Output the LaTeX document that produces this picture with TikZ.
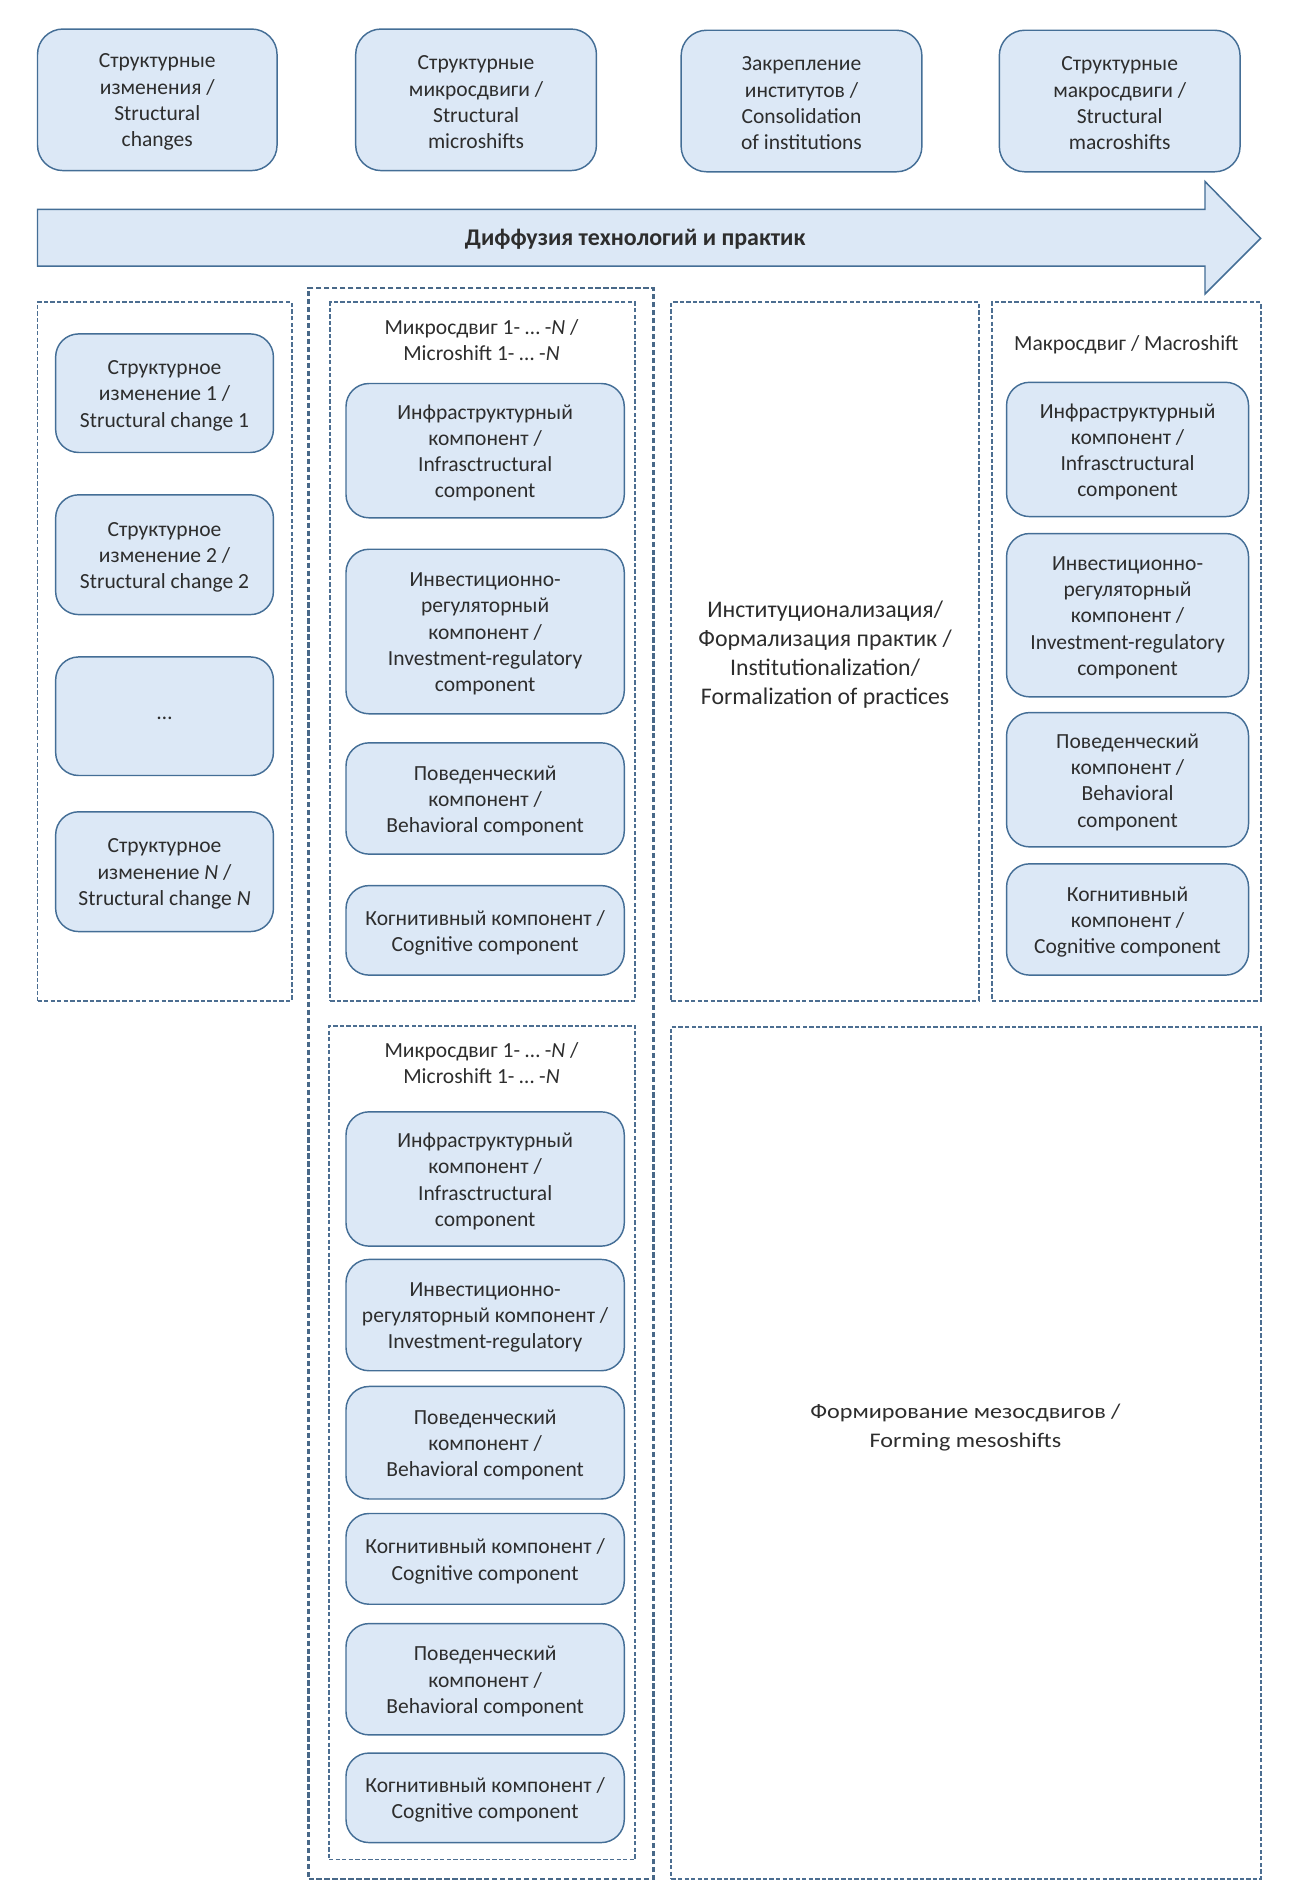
\documentclass[tikz,border=0pt]{standalone}
\usepackage{fontspec}
\setmainfont{Carlito}
\definecolor{fillc}{RGB}{220,232,246}
\definecolor{bordc}{RGB}{68,110,150}
\definecolor{dashc}{RGB}{76,110,145}
\definecolor{dashd}{RGB}{72,104,136}
\definecolor{txtc}{RGB}{45,45,45}
\begin{document}
\begin{tikzpicture}[x=0.5pt,y=-0.5pt,
  boxtxt/.style={align=center, text=txtc, inner sep=0pt, yshift=-1pt, font=\fontsize{8.9}{10.85}\selectfont},
  rbase/.style={draw=bordc, fill=fillc, line width=0.6pt, rounded corners=9.5pt, inner sep=0pt},
  area/.style n args={4}{minimum width={(#3-#1)*0.5pt}, minimum height={(#4-#2)*0.5pt}, at={({(#1+#3)/2},{(#2+#4)/2})}},
  rb/.style n args={5}{rbase, area={#1}{#2}{#3}{#4}, label={[boxtxt]center:{#5}}},
  tb/.style n args={5}{rbase, rounded corners=10.5pt, area={#1}{#2}{#3}{#4}, label={[boxtxt]center:{#5}}},
  db/.style n args={4}{draw=dashc, line width=0.8pt, dash pattern=on 1.8pt off 0.9pt, inner sep=0pt, area={#1}{#2}{#3}{#4}},
  ob/.style n args={4}{draw=dashd, line width=1.1pt, dash pattern=on 2.2pt off 1.1pt, inner sep=0pt, area={#1}{#2}{#3}{#4}},
  title/.style={align=center, text=txtc, inner sep=0pt, font=\fontsize{8.9}{10.85}\selectfont}]
\useasboundingbox (0,0) rectangle (1074.6,1568);

% top boxes
\node[tb={31}{24}{229}{141}{Структурные\\изменения /\\Structural\\changes}] (b1) {};
\node[tb={294}{24}{493}{141}{Структурные\\микросдвиги /\\Structural\\microshifts}] (b2) {};
\node[tb={563}{25}{762}{142}{Закрепление\\институтов /\\Consolidation\\of institutions}] (b3) {};
\node[tb={826}{25}{1025}{142}{Структурные\\макросдвиги /\\Structural\\macroshifts}] (b4) {};

% arrow
\draw[draw=bordc, fill=fillc, line width=0.6pt] (31,173) -- (996,173) -- (996,150) -- (1042,197) -- (996,243) -- (996,220) -- (31,220) -- cycle;
\node[title, font=\fontsize{9.9}{12}\selectfont\bfseries] (arr) at (525,198) {Диффузия технологий и практик};

% dashed containers
\node[ob={255}{238}{540}{1553}] (outer) {};
\node[db={31}{250}{241}{827}] (left) {};
\node[db={273}{250}{525}{827}] (m1) {};
\node[db={272}{848}{525}{1537}] (m2) {};
\node[db={555}{250}{809}{827}] (inst) {};
\node[title, font=\fontsize{9.85}{12}\selectfont] (instt) at (682,541) {Институционализация/\\Формализация практик /\\Institutionalization/\\Formalization of practices};
\node[db={820}{250}{1042}{827}] (macro) {};
\node[db={555}{849}{1042}{1553}] (meso) {};
\node[title, font=\fontsize{8.6}{12}\selectfont] (mesot) at (798,1180) {\scalebox{1.16}[1]{Формирование мезосдвигов /}\\\scalebox{1.16}[1]{Forming mesoshifts}};

% left column
\node[rb={46}{276}{226}{374}{Структурное\\изменение 1 /\\Structural change 1}] (sc1) {};
\node[rb={46}{409}{226}{508}{Структурное\\изменение 2 /\\Structural change 2}] (sc2) {};
\node[rb={46}{543}{226}{641}{…}] (scd) {};
\node[rb={46}{671}{226}{770}{Структурное\\изменение \textit{N} /\\Structural change \textit{N}}] (scn) {};

% microshift 1
\node[title] (m1t) at (398,281) {Микросдвиг 1- … -\textit{N} /\\Microshift 1- … -\textit{N}};
\node[rb={286}{317}{516}{428}{Инфраструктурный\\компонент /\\Infrasctructural\\component}] (m1i) {};
\node[rb={286}{454}{516}{590}{Инвестиционно-\\регуляторный\\компонент /\\Investment-regulatory\\component}] (m1v) {};
\node[rb={286}{614}{516}{706}{Поведенческий\\компонент /\\Behavioral component}] (m1b) {};
\node[rb={286}{732}{516}{806}{Когнитивный компонент /\\Cognitive component}] (m1c) {};

% microshift 2
\node[title] (m2t) at (398,879) {Микросдвиг 1- … -\textit{N} /\\Microshift 1- … -\textit{N}};
\node[rb={286}{919}{516}{1030}{Инфраструктурный\\компонент /\\Infrasctructural\\component}] (m2i) {};
\node[rb={286}{1041}{516}{1133}{Инвестиционно-\\регуляторный компонент /\\Investment-regulatory}] (m2v) {};
\node[rb={286}{1146}{516}{1239}{Поведенческий\\компонент /\\Behavioral component}] (m2b) {};
\node[rb={286}{1251}{516}{1326}{Когнитивный компонент /\\Cognitive component}] (m2c) {};
\node[rb={286}{1342}{516}{1434}{Поведенческий\\компонент /\\Behavioral component}] (m2bb) {};
\node[rb={286}{1449}{516}{1523}{Когнитивный компонент /\\Cognitive component}] (m2cc) {};

% macroshift
\node[title] (mat) at (931,285) {Макросдвиг / Macroshift};
\node[rb={832}{316}{1032}{427}{Инфраструктурный\\компонент /\\Infrasctructural\\component}] (mai) {};
\node[rb={832}{441}{1032}{576}{Инвестиционно-\\регуляторный\\компонент /\\Investment-regulatory\\component}] (mav) {};
\node[rb={832}{589}{1032}{700}{Поведенческий\\компонент /\\Behavioral\\component}] (mab) {};
\node[rb={832}{714}{1032}{806}{Когнитивный\\компонент /\\Cognitive component}] (mac) {};
\end{tikzpicture}
\end{document}
